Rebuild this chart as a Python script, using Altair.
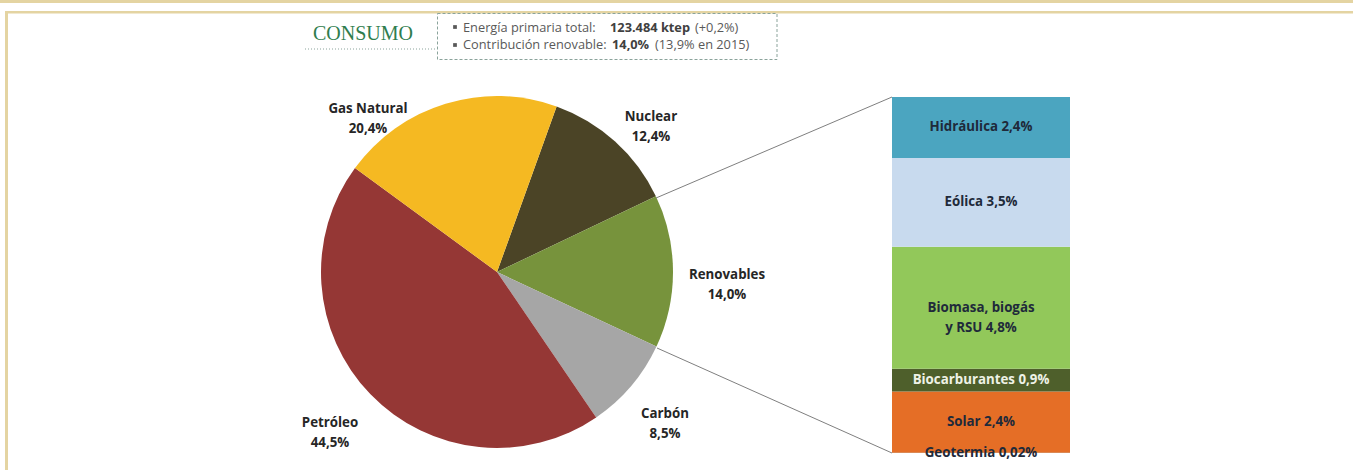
import math
import altair as alt
import pandas as pd

# ---------------- data ----------------
pie_names = ["Nuclear", "Renovables", "Carbón", "Petróleo", "Gas Natural"]
pie_values = [12.4, 14.0, 8.5, 44.5, 20.4]
pie_labels = ["Nuclear\n12,4%", "Renovables\n14,0%", "Carbón\n8,5%", "Petróleo\n44,5%", "Gas Natural\n20,4%"]

bar_names = ["Geotermia", "Solar", "Biocarburantes", "Biomasa, biogás y RSU", "Eólica", "Hidráulica"]
bar_values = [0.02, 2.4, 0.9, 4.8, 3.5, 2.4]
bar_labels = ["Geotermia 0,02%", "Solar 2,4%", "Biocarburantes 0,9%",
              "Biomasa, biogás\ny RSU 4,8%", "Eólica 3,5%", "Hidráulica 2,4%"]

# ---------------- styles / layout ----------------
pie_colors = ["#4B4426", "#77933C", "#A6A6A6", "#953735", "#F5B922"]
bar_colors = ["#9A4A10", "#E56E26", "#4E5F2B", "#92C85A", "#C8DAEE", "#4BA5C0"]
W, H = 1353, 470
CX, CY, R = 497, 272, 176
START = math.radians(19.8)
BAR_X0, BAR_X1, BAR_TOP, BAR_BOT = 892, 1070, 97, 453
FONT = "Open Sans"
LFS = 13.3
HFS = 12.8
BORDER = "#E4D4A2"

# label positions (center x, center y)
pie_label_pos = {
    "Nuclear": (651, 117),
    "Renovables": (727, 275),
    "Carbón": (665, 414),
    "Petróleo": (330, 423),
    "Gas Natural": (368, 109),
}

color_scale = alt.Scale(domain=pie_names + bar_names, range=pie_colors + bar_colors)
dummy = pd.DataFrame({"a": [0]})

layers = []

# ---------------- border ----------------
for (x0, x1, y0, y1) in [(0, W, 0, 3), (5, W, 11, 13.5), (5, 8, 11, H)]:
    layers.append(
        alt.Chart(dummy).mark_rect(color=BORDER).encode(
            x=alt.value(x0), x2=alt.value(x1), y=alt.value(y0), y2=alt.value(y1)
        )
    )

# ---------------- header ----------------
layers.append(
    alt.Chart(dummy).mark_text(text="CONSUMO", font="Liberation Serif", fontSize=20,
                               color="#2F7D4E", align="left", baseline="alphabetic").encode(
        x=alt.value(313), y=alt.value(40)
    )
)
layers.append(
    alt.Chart(dummy).mark_rule(color="#8AA39B", strokeDash=[1, 2], strokeWidth=1).encode(
        x=alt.value(305), x2=alt.value(437), y=alt.value(49), y2=alt.value(49)
    )
)
layers.append(
    alt.Chart(dummy).mark_rect(fillOpacity=0, stroke="#8AA39B", strokeDash=[3, 2], strokeWidth=1).encode(
        x=alt.value(437.5), x2=alt.value(777), y=alt.value(13.5), y2=alt.value(59.5)
    )
)
header_parts = [
    ("Energía primaria total:", 463, 28, "normal", "#595959"),
    ("123.484 ktep", 610, 28, "bold", "#404040"),
    ("(+0,2%)", 695, 28, "normal", "#595959"),
    ("Contribución renovable:", 463, 45, "normal", "#595959"),
    ("14,0%", 612, 45, "bold", "#404040"),
    ("(13,9% en 2015)", 655, 45, "normal", "#595959"),
]
for txt, x, y, fw, c in header_parts:
    layers.append(
        alt.Chart(dummy).mark_text(text=txt, font=FONT, fontSize=HFS, fontWeight=fw, color=c,
                                   align="left", baseline="middle").encode(
            x=alt.value(x), y=alt.value(y)
        )
    )
for y in [27, 45]:
    layers.append(
        alt.Chart(dummy).mark_square(size=14, color="#595959", opacity=1).encode(
            x=alt.value(455), y=alt.value(y)
        )
    )

# ---------------- pie ----------------
pie_df = pd.DataFrame({"name": pie_names, "value": pie_values, "idx": list(range(len(pie_names)))})
pie = alt.Chart(pie_df).mark_arc(outerRadius=R).encode(
    theta=alt.Theta("value:Q", stack=True,
                    scale=alt.Scale(range=[START, START + 2 * math.pi])),
    color=alt.Color("name:N", scale=color_scale, legend=None),
    order=alt.Order("idx:Q"),
    x=alt.value(CX),
    y=alt.value(CY),
)
layers.append(pie)

for name, lab in zip(pie_names, pie_labels):
    px, py = pie_label_pos[name]
    layers.append(
        alt.Chart(dummy).mark_text(text=lab, font=FONT, fontSize=LFS, fontWeight="bold",
                                   color="#262626", lineBreak="\n", lineHeight=20,
                                   align="center", baseline="middle").encode(
            x=alt.value(px), y=alt.value(py)
        )
    )

# ---------------- connectors ----------------
for (x0, y0, x1, y1) in [(656, 198, BAR_X0, BAR_TOP), (657, 348, BAR_X0, BAR_BOT)]:
    layers.append(
        alt.Chart(dummy).mark_rule(color="#7F7F7F", strokeWidth=1).encode(
            x=alt.value(x0), y=alt.value(y0), x2=alt.value(x1), y2=alt.value(y1)
        )
    )

# ---------------- stacked bar ----------------
bar_df = pd.DataFrame({"name": bar_names, "value": bar_values, "label": bar_labels,
                       "idx": list(range(len(bar_names)))})
yscale = alt.Scale(domain=[0, sum(bar_values)], range=[BAR_BOT, BAR_TOP], nice=False, zero=True)
ybase = alt.Chart(bar_df).transform_stack(
    stack="value", groupby=[], as_=["y0", "y1"], sort=[alt.SortField("idx", order="ascending")]
).transform_calculate(mid="(datum.y0 + datum.y1) / 2")

bars = ybase.mark_rect().encode(
    x=alt.value(BAR_X0), x2=alt.value(BAR_X1),
    y=alt.Y("y0:Q", scale=yscale, axis=None), y2="y1:Q",
    color=alt.Color("name:N", scale=color_scale, legend=None),
)
layers.append(bars)

bar_text_dark = ybase.transform_filter("datum.name != 'Biocarburantes'").mark_text(
    font=FONT, fontSize=LFS, fontWeight="bold", color="#1F2A3A", lineBreak="\n",
    lineHeight=20, align="center", baseline="middle"
).encode(
    x=alt.value((BAR_X0 + BAR_X1) / 2),
    y=alt.Y("mid:Q", scale=yscale, axis=None),
    text="label:N",
)
bar_text_light = ybase.transform_filter("datum.name == 'Biocarburantes'").mark_text(
    font=FONT, fontSize=LFS, fontWeight="bold", color="#EEF2E6", align="center", baseline="middle"
).encode(
    x=alt.value((BAR_X0 + BAR_X1) / 2),
    y=alt.Y("mid:Q", scale=yscale, axis=None),
    text="label:N",
)
layers += [bar_text_dark, bar_text_light]

chart = alt.layer(*layers).properties(
    width=W, height=H, autosize=alt.AutoSizeParams(type="none"), padding=0, background="white"
).configure_view(stroke=None)

chart.save("out.html", embed_options={"renderer": "svg", "actions": False})
